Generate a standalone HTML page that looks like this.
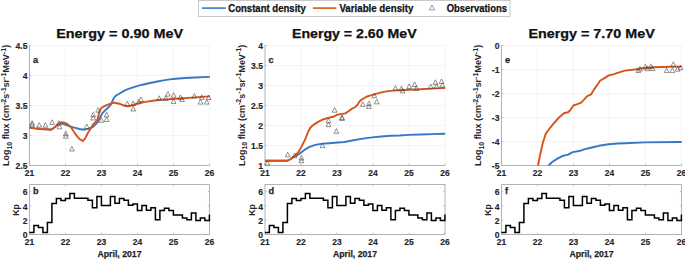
<!DOCTYPE html>
<html><head><meta charset="utf-8"><style>
html,body{margin:0;padding:0;background:#fff;width:685px;height:259px;overflow:hidden}
svg{display:block}
text{font-family:"Liberation Sans", sans-serif}
</style></head><body>
<svg width="685" height="259" viewBox="0 0 685 259" font-family='"Liberation Sans", sans-serif'>
<defs><clipPath id="cp0"><rect x="29.5" y="40" width="181" height="125.5"/></clipPath><clipPath id="cp1"><rect x="265.0" y="40" width="181" height="125.5"/></clipPath><clipPath id="cp2"><rect x="501.5" y="40" width="181" height="125.5"/></clipPath></defs>
<rect x="198.5" y="0.5" width="311.5" height="16" fill="#fff" stroke="#c8c8c8" stroke-width="1"/>
<line x1="202" y1="8.1" x2="225.8" y2="8.1" stroke="#3777c3" stroke-width="1.6"/>
<text x="228.3" y="12.0" font-size="10.6" text-anchor="start" font-weight="bold" fill="#111" stroke="#111" stroke-width="0.25" textLength="77.5" lengthAdjust="spacingAndGlyphs">Constant density</text>
<line x1="312.9" y1="8.1" x2="336.4" y2="8.1" stroke="#d95319" stroke-width="1.6"/>
<text x="339.4" y="12.0" font-size="10.6" text-anchor="start" font-weight="bold" fill="#111" stroke="#111" stroke-width="0.25" textLength="74" lengthAdjust="spacingAndGlyphs">Variable density</text>
<path d="M432.0,5.0L434.6,9.9L429.4,9.9Z" fill="none" stroke="#555" stroke-width="0.6"/>
<text x="446.7" y="12.0" font-size="10.6" text-anchor="start" font-weight="bold" fill="#111" stroke="#111" stroke-width="0.25" textLength="60.3" lengthAdjust="spacingAndGlyphs">Observations</text>
<text x="56.2" y="38.1" font-size="12.8" text-anchor="start" font-weight="bold" fill="#111" stroke="#111" stroke-width="0.25" textLength="127.0" lengthAdjust="spacingAndGlyphs">Energy = 0.90 MeV</text>
<text x="292.0" y="38.1" font-size="12.8" text-anchor="start" font-weight="bold" fill="#111" stroke="#111" stroke-width="0.25" textLength="124.6" lengthAdjust="spacingAndGlyphs">Energy = 2.60 MeV</text>
<text x="528.4" y="38.1" font-size="12.8" text-anchor="start" font-weight="bold" fill="#111" stroke="#111" stroke-width="0.25" textLength="126.4" lengthAdjust="spacingAndGlyphs">Energy = 7.70 MeV</text>
<path d="M65.5,45.5V165.5 M101.5,45.5V165.5 M137.5,45.5V165.5 M173.5,45.5V165.5 M209.5,45.5V165.5 M29.5,45.5H209.5 M29.5,75.5H209.5 M29.5,105.5H209.5 M29.5,135.5H209.5" stroke="#f1f1f1" stroke-width="0.8" fill="none"/>
<path d="M29.5,45.0V165.5H209.5M29.5,184.5V234.5H209.5V184.5Z" stroke="#b2b2b2" stroke-width="1" fill="none"/>
<path d="M29.5,165.5v-1.8M29.5,234.5v-1.8M29.5,184.5v1.8 M65.5,165.5v-1.8M65.5,234.5v-1.8M65.5,184.5v1.8 M101.5,165.5v-1.8M101.5,234.5v-1.8M101.5,184.5v1.8 M137.5,165.5v-1.8M137.5,234.5v-1.8M137.5,184.5v1.8 M173.5,165.5v-1.8M173.5,234.5v-1.8M173.5,184.5v1.8 M209.5,165.5v-1.8M209.5,234.5v-1.8M209.5,184.5v1.8 M29.5,45.5h1.8 M29.5,75.5h1.8 M29.5,105.5h1.8 M29.5,135.5h1.8 M29.5,165.5h1.8 M29.5,234.5h1.8M209.5,234.5h-1.8 M29.5,220.2h1.8M209.5,220.2h-1.8 M29.5,205.9h1.8M209.5,205.9h-1.8 M29.5,191.6h1.8M209.5,191.6h-1.8" stroke="#b2b2b2" stroke-width="0.8" fill="none"/>
<text x="27.5" y="49.1" font-size="8.6" text-anchor="end" font-weight="bold" fill="#262626" stroke="#262626" stroke-width="0.15">4.5</text>
<text x="27.5" y="79.1" font-size="8.6" text-anchor="end" font-weight="bold" fill="#262626" stroke="#262626" stroke-width="0.15">4</text>
<text x="27.5" y="109.1" font-size="8.6" text-anchor="end" font-weight="bold" fill="#262626" stroke="#262626" stroke-width="0.15">3.5</text>
<text x="27.5" y="139.1" font-size="8.6" text-anchor="end" font-weight="bold" fill="#262626" stroke="#262626" stroke-width="0.15">3</text>
<text x="27.5" y="169.1" font-size="8.6" text-anchor="end" font-weight="bold" fill="#262626" stroke="#262626" stroke-width="0.15">2.5</text>
<text x="27.5" y="238.1" font-size="8.6" text-anchor="end" font-weight="bold" fill="#262626" stroke="#262626" stroke-width="0.15">0</text>
<text x="27.5" y="223.81428571428572" font-size="8.6" text-anchor="end" font-weight="bold" fill="#262626" stroke="#262626" stroke-width="0.15">2</text>
<text x="27.5" y="209.5285714285714" font-size="8.6" text-anchor="end" font-weight="bold" fill="#262626" stroke="#262626" stroke-width="0.15">4</text>
<text x="27.5" y="195.24285714285713" font-size="8.6" text-anchor="end" font-weight="bold" fill="#262626" stroke="#262626" stroke-width="0.15">6</text>
<text x="29.5" y="176.1" font-size="8.5" text-anchor="middle" font-weight="bold" fill="#262626" stroke="#262626" stroke-width="0.15">21</text>
<text x="29.5" y="244.7" font-size="8.5" text-anchor="middle" font-weight="bold" fill="#262626" stroke="#262626" stroke-width="0.15">21</text>
<text x="65.5" y="176.1" font-size="8.5" text-anchor="middle" font-weight="bold" fill="#262626" stroke="#262626" stroke-width="0.15">22</text>
<text x="65.5" y="244.7" font-size="8.5" text-anchor="middle" font-weight="bold" fill="#262626" stroke="#262626" stroke-width="0.15">22</text>
<text x="101.5" y="176.1" font-size="8.5" text-anchor="middle" font-weight="bold" fill="#262626" stroke="#262626" stroke-width="0.15">23</text>
<text x="101.5" y="244.7" font-size="8.5" text-anchor="middle" font-weight="bold" fill="#262626" stroke="#262626" stroke-width="0.15">23</text>
<text x="137.5" y="176.1" font-size="8.5" text-anchor="middle" font-weight="bold" fill="#262626" stroke="#262626" stroke-width="0.15">24</text>
<text x="137.5" y="244.7" font-size="8.5" text-anchor="middle" font-weight="bold" fill="#262626" stroke="#262626" stroke-width="0.15">24</text>
<text x="173.5" y="176.1" font-size="8.5" text-anchor="middle" font-weight="bold" fill="#262626" stroke="#262626" stroke-width="0.15">25</text>
<text x="173.5" y="244.7" font-size="8.5" text-anchor="middle" font-weight="bold" fill="#262626" stroke="#262626" stroke-width="0.15">25</text>
<text x="209.5" y="176.1" font-size="8.5" text-anchor="middle" font-weight="bold" fill="#262626" stroke="#262626" stroke-width="0.15">26</text>
<text x="209.5" y="244.7" font-size="8.5" text-anchor="middle" font-weight="bold" fill="#262626" stroke="#262626" stroke-width="0.15">26</text>
<text x="33.1" y="62.9" font-size="9.2" text-anchor="start" font-weight="bold" fill="#262626" stroke="#262626" stroke-width="0.25">a</text>
<text x="33.1" y="193.6" font-size="9.2" text-anchor="start" font-weight="bold" fill="#262626" stroke="#262626" stroke-width="0.25">b</text>
<text x="119.5" y="256.9" font-size="8.8" text-anchor="middle" font-weight="bold" fill="#262626" stroke="#262626" stroke-width="0.25" textLength="44" lengthAdjust="spacingAndGlyphs">April, 2017</text>
<text transform="translate(9.1,105.4) rotate(-90)" x="0" y="0" font-size="9" text-anchor="middle" font-weight="bold" fill="#262626" textLength="121.2" lengthAdjust="spacingAndGlyphs">Log<tspan font-size="7" dy="2.8">10</tspan><tspan dy="-2.8"> flux (cm</tspan><tspan font-size="7.2" dy="-3.2">-2</tspan><tspan dy="3.2">s</tspan><tspan font-size="7.2" dy="-3.2">-1</tspan><tspan dy="3.2">sr</tspan><tspan font-size="7.2" dy="-3.2">-1</tspan><tspan dy="3.2">MeV</tspan><tspan font-size="7.2" dy="-3.2">-1</tspan><tspan dy="3.2">)</tspan></text>
<text transform="translate(19.2,209.9) rotate(-90)" x="0" y="0" font-size="8.8" text-anchor="middle" font-weight="bold" fill="#262626">Kp</text>
<path d="M29.4,232.4H33.9V225.5H38.4V227.5H42.9V232.4H47.4V222.5H51.9V203.4H56.4V198.5H60.9V200.5H65.4V198.5H69.9V193.6H74.4V198.3H78.9V198.3H83.4V198.3H87.9V200.3H92.4V207.8H96.9V196.6H101.4V205.5H105.9V205.5H110.4V196.6H114.9V203.2H119.4V198.6H123.9V200.2H128.4V205.2H132.9V204.0H137.4V210.5H141.9V205.6H146.4V210.3H150.9V207.8H155.4V219.8H159.9V210.6H164.4V208.2H168.9V210.4H173.4V215H177.9V215H182.4V217.9H186.9V219.8H191.4V213H195.9V220.4H200.4V217.9H204.9V220.4H209.4V214.5" stroke="#000" stroke-width="1.5" fill="none"/>
<path d="M301.0,45.5V165.5 M337.0,45.5V165.5 M373.0,45.5V165.5 M409.0,45.5V165.5 M445.0,45.5V165.5 M265.0,45.5H445.0 M265.0,65.5H445.0 M265.0,85.5H445.0 M265.0,105.5H445.0 M265.0,125.5H445.0 M265.0,145.5H445.0" stroke="#f1f1f1" stroke-width="0.8" fill="none"/>
<path d="M265.0,45.0V165.5H445.0M265.0,184.5V234.5H445.0V184.5Z" stroke="#b2b2b2" stroke-width="1" fill="none"/>
<path d="M265.0,165.5v-1.8M265.0,234.5v-1.8M265.0,184.5v1.8 M301.0,165.5v-1.8M301.0,234.5v-1.8M301.0,184.5v1.8 M337.0,165.5v-1.8M337.0,234.5v-1.8M337.0,184.5v1.8 M373.0,165.5v-1.8M373.0,234.5v-1.8M373.0,184.5v1.8 M409.0,165.5v-1.8M409.0,234.5v-1.8M409.0,184.5v1.8 M445.0,165.5v-1.8M445.0,234.5v-1.8M445.0,184.5v1.8 M265.0,45.5h1.8 M265.0,65.5h1.8 M265.0,85.5h1.8 M265.0,105.5h1.8 M265.0,125.5h1.8 M265.0,145.5h1.8 M265.0,165.5h1.8 M265.0,234.5h1.8M445.0,234.5h-1.8 M265.0,220.2h1.8M445.0,220.2h-1.8 M265.0,205.9h1.8M445.0,205.9h-1.8 M265.0,191.6h1.8M445.0,191.6h-1.8" stroke="#b2b2b2" stroke-width="0.8" fill="none"/>
<text x="263.0" y="49.1" font-size="8.6" text-anchor="end" font-weight="bold" fill="#262626" stroke="#262626" stroke-width="0.15">4</text>
<text x="263.0" y="69.1" font-size="8.6" text-anchor="end" font-weight="bold" fill="#262626" stroke="#262626" stroke-width="0.15">3.5</text>
<text x="263.0" y="89.1" font-size="8.6" text-anchor="end" font-weight="bold" fill="#262626" stroke="#262626" stroke-width="0.15">3</text>
<text x="263.0" y="109.1" font-size="8.6" text-anchor="end" font-weight="bold" fill="#262626" stroke="#262626" stroke-width="0.15">2.5</text>
<text x="263.0" y="129.1" font-size="8.6" text-anchor="end" font-weight="bold" fill="#262626" stroke="#262626" stroke-width="0.15">2</text>
<text x="263.0" y="149.1" font-size="8.6" text-anchor="end" font-weight="bold" fill="#262626" stroke="#262626" stroke-width="0.15">1.5</text>
<text x="263.0" y="169.1" font-size="8.6" text-anchor="end" font-weight="bold" fill="#262626" stroke="#262626" stroke-width="0.15">1</text>
<text x="263.0" y="238.1" font-size="8.6" text-anchor="end" font-weight="bold" fill="#262626" stroke="#262626" stroke-width="0.15">0</text>
<text x="263.0" y="223.81428571428572" font-size="8.6" text-anchor="end" font-weight="bold" fill="#262626" stroke="#262626" stroke-width="0.15">2</text>
<text x="263.0" y="209.5285714285714" font-size="8.6" text-anchor="end" font-weight="bold" fill="#262626" stroke="#262626" stroke-width="0.15">4</text>
<text x="263.0" y="195.24285714285713" font-size="8.6" text-anchor="end" font-weight="bold" fill="#262626" stroke="#262626" stroke-width="0.15">6</text>
<text x="265.0" y="176.1" font-size="8.5" text-anchor="middle" font-weight="bold" fill="#262626" stroke="#262626" stroke-width="0.15">21</text>
<text x="265.0" y="244.7" font-size="8.5" text-anchor="middle" font-weight="bold" fill="#262626" stroke="#262626" stroke-width="0.15">21</text>
<text x="301.0" y="176.1" font-size="8.5" text-anchor="middle" font-weight="bold" fill="#262626" stroke="#262626" stroke-width="0.15">22</text>
<text x="301.0" y="244.7" font-size="8.5" text-anchor="middle" font-weight="bold" fill="#262626" stroke="#262626" stroke-width="0.15">22</text>
<text x="337.0" y="176.1" font-size="8.5" text-anchor="middle" font-weight="bold" fill="#262626" stroke="#262626" stroke-width="0.15">23</text>
<text x="337.0" y="244.7" font-size="8.5" text-anchor="middle" font-weight="bold" fill="#262626" stroke="#262626" stroke-width="0.15">23</text>
<text x="373.0" y="176.1" font-size="8.5" text-anchor="middle" font-weight="bold" fill="#262626" stroke="#262626" stroke-width="0.15">24</text>
<text x="373.0" y="244.7" font-size="8.5" text-anchor="middle" font-weight="bold" fill="#262626" stroke="#262626" stroke-width="0.15">24</text>
<text x="409.0" y="176.1" font-size="8.5" text-anchor="middle" font-weight="bold" fill="#262626" stroke="#262626" stroke-width="0.15">25</text>
<text x="409.0" y="244.7" font-size="8.5" text-anchor="middle" font-weight="bold" fill="#262626" stroke="#262626" stroke-width="0.15">25</text>
<text x="445.0" y="176.1" font-size="8.5" text-anchor="middle" font-weight="bold" fill="#262626" stroke="#262626" stroke-width="0.15">26</text>
<text x="445.0" y="244.7" font-size="8.5" text-anchor="middle" font-weight="bold" fill="#262626" stroke="#262626" stroke-width="0.15">26</text>
<text x="268.6" y="62.9" font-size="9.2" text-anchor="start" font-weight="bold" fill="#262626" stroke="#262626" stroke-width="0.25">c</text>
<text x="268.6" y="193.6" font-size="9.2" text-anchor="start" font-weight="bold" fill="#262626" stroke="#262626" stroke-width="0.25">d</text>
<text x="355.0" y="256.9" font-size="8.8" text-anchor="middle" font-weight="bold" fill="#262626" stroke="#262626" stroke-width="0.25" textLength="44" lengthAdjust="spacingAndGlyphs">April, 2017</text>
<text transform="translate(244.6,105.4) rotate(-90)" x="0" y="0" font-size="9" text-anchor="middle" font-weight="bold" fill="#262626" textLength="121.2" lengthAdjust="spacingAndGlyphs">Log<tspan font-size="7" dy="2.8">10</tspan><tspan dy="-2.8"> flux (cm</tspan><tspan font-size="7.2" dy="-3.2">-2</tspan><tspan dy="3.2">s</tspan><tspan font-size="7.2" dy="-3.2">-1</tspan><tspan dy="3.2">sr</tspan><tspan font-size="7.2" dy="-3.2">-1</tspan><tspan dy="3.2">MeV</tspan><tspan font-size="7.2" dy="-3.2">-1</tspan><tspan dy="3.2">)</tspan></text>
<text transform="translate(254.7,209.9) rotate(-90)" x="0" y="0" font-size="8.8" text-anchor="middle" font-weight="bold" fill="#262626">Kp</text>
<path d="M264.9,232.4H269.4V225.5H273.9V227.5H278.4V232.4H282.9V222.5H287.4V203.4H291.9V198.5H296.4V200.5H300.9V198.5H305.4V193.6H309.9V198.3H314.4V198.3H318.9V198.3H323.4V200.3H327.9V207.8H332.4V196.6H336.9V205.5H341.4V205.5H345.9V196.6H350.4V203.2H354.9V198.6H359.4V200.2H363.9V205.2H368.4V204.0H372.9V210.5H377.4V205.6H381.9V210.3H386.4V207.8H390.9V219.8H395.4V210.6H399.9V208.2H404.4V210.4H408.9V215H413.4V215H417.9V217.9H422.4V219.8H426.9V213H431.4V220.4H435.9V217.9H440.4V220.4H444.9V214.5" stroke="#000" stroke-width="1.5" fill="none"/>
<path d="M537.5,45.5V165.5 M573.5,45.5V165.5 M609.5,45.5V165.5 M645.5,45.5V165.5 M681.5,45.5V165.5 M501.5,45.5H681.5 M501.5,69.5H681.5 M501.5,93.5H681.5 M501.5,117.5H681.5 M501.5,141.5H681.5" stroke="#f1f1f1" stroke-width="0.8" fill="none"/>
<path d="M501.5,45.0V165.5H681.5M501.5,184.5V234.5H681.5V184.5Z" stroke="#b2b2b2" stroke-width="1" fill="none"/>
<path d="M501.5,165.5v-1.8M501.5,234.5v-1.8M501.5,184.5v1.8 M537.5,165.5v-1.8M537.5,234.5v-1.8M537.5,184.5v1.8 M573.5,165.5v-1.8M573.5,234.5v-1.8M573.5,184.5v1.8 M609.5,165.5v-1.8M609.5,234.5v-1.8M609.5,184.5v1.8 M645.5,165.5v-1.8M645.5,234.5v-1.8M645.5,184.5v1.8 M681.5,165.5v-1.8M681.5,234.5v-1.8M681.5,184.5v1.8 M501.5,45.5h1.8 M501.5,69.5h1.8 M501.5,93.5h1.8 M501.5,117.5h1.8 M501.5,141.5h1.8 M501.5,165.5h1.8 M501.5,234.5h1.8M681.5,234.5h-1.8 M501.5,220.2h1.8M681.5,220.2h-1.8 M501.5,205.9h1.8M681.5,205.9h-1.8 M501.5,191.6h1.8M681.5,191.6h-1.8" stroke="#b2b2b2" stroke-width="0.8" fill="none"/>
<text x="499.5" y="49.1" font-size="8.6" text-anchor="end" font-weight="bold" fill="#262626" stroke="#262626" stroke-width="0.15">0</text>
<text x="499.5" y="73.1" font-size="8.6" text-anchor="end" font-weight="bold" fill="#262626" stroke="#262626" stroke-width="0.15">-1</text>
<text x="499.5" y="97.1" font-size="8.6" text-anchor="end" font-weight="bold" fill="#262626" stroke="#262626" stroke-width="0.15">-2</text>
<text x="499.5" y="121.1" font-size="8.6" text-anchor="end" font-weight="bold" fill="#262626" stroke="#262626" stroke-width="0.15">-3</text>
<text x="499.5" y="145.1" font-size="8.6" text-anchor="end" font-weight="bold" fill="#262626" stroke="#262626" stroke-width="0.15">-4</text>
<text x="499.5" y="169.1" font-size="8.6" text-anchor="end" font-weight="bold" fill="#262626" stroke="#262626" stroke-width="0.15">-5</text>
<text x="499.5" y="238.1" font-size="8.6" text-anchor="end" font-weight="bold" fill="#262626" stroke="#262626" stroke-width="0.15">0</text>
<text x="499.5" y="223.81428571428572" font-size="8.6" text-anchor="end" font-weight="bold" fill="#262626" stroke="#262626" stroke-width="0.15">2</text>
<text x="499.5" y="209.5285714285714" font-size="8.6" text-anchor="end" font-weight="bold" fill="#262626" stroke="#262626" stroke-width="0.15">4</text>
<text x="499.5" y="195.24285714285713" font-size="8.6" text-anchor="end" font-weight="bold" fill="#262626" stroke="#262626" stroke-width="0.15">6</text>
<text x="501.5" y="176.1" font-size="8.5" text-anchor="middle" font-weight="bold" fill="#262626" stroke="#262626" stroke-width="0.15">21</text>
<text x="501.5" y="244.7" font-size="8.5" text-anchor="middle" font-weight="bold" fill="#262626" stroke="#262626" stroke-width="0.15">21</text>
<text x="537.5" y="176.1" font-size="8.5" text-anchor="middle" font-weight="bold" fill="#262626" stroke="#262626" stroke-width="0.15">22</text>
<text x="537.5" y="244.7" font-size="8.5" text-anchor="middle" font-weight="bold" fill="#262626" stroke="#262626" stroke-width="0.15">22</text>
<text x="573.5" y="176.1" font-size="8.5" text-anchor="middle" font-weight="bold" fill="#262626" stroke="#262626" stroke-width="0.15">23</text>
<text x="573.5" y="244.7" font-size="8.5" text-anchor="middle" font-weight="bold" fill="#262626" stroke="#262626" stroke-width="0.15">23</text>
<text x="609.5" y="176.1" font-size="8.5" text-anchor="middle" font-weight="bold" fill="#262626" stroke="#262626" stroke-width="0.15">24</text>
<text x="609.5" y="244.7" font-size="8.5" text-anchor="middle" font-weight="bold" fill="#262626" stroke="#262626" stroke-width="0.15">24</text>
<text x="645.5" y="176.1" font-size="8.5" text-anchor="middle" font-weight="bold" fill="#262626" stroke="#262626" stroke-width="0.15">25</text>
<text x="645.5" y="244.7" font-size="8.5" text-anchor="middle" font-weight="bold" fill="#262626" stroke="#262626" stroke-width="0.15">25</text>
<text x="681.5" y="176.1" font-size="8.5" text-anchor="middle" font-weight="bold" fill="#262626" stroke="#262626" stroke-width="0.15">26</text>
<text x="681.5" y="244.7" font-size="8.5" text-anchor="middle" font-weight="bold" fill="#262626" stroke="#262626" stroke-width="0.15">26</text>
<text x="505.1" y="62.9" font-size="9.2" text-anchor="start" font-weight="bold" fill="#262626" stroke="#262626" stroke-width="0.25">e</text>
<text x="505.1" y="193.6" font-size="9.2" text-anchor="start" font-weight="bold" fill="#262626" stroke="#262626" stroke-width="0.25">f</text>
<text x="591.5" y="256.9" font-size="8.8" text-anchor="middle" font-weight="bold" fill="#262626" stroke="#262626" stroke-width="0.25" textLength="44" lengthAdjust="spacingAndGlyphs">April, 2017</text>
<text transform="translate(481.1,105.4) rotate(-90)" x="0" y="0" font-size="9" text-anchor="middle" font-weight="bold" fill="#262626" textLength="121.2" lengthAdjust="spacingAndGlyphs">Log<tspan font-size="7" dy="2.8">10</tspan><tspan dy="-2.8"> flux (cm</tspan><tspan font-size="7.2" dy="-3.2">-2</tspan><tspan dy="3.2">s</tspan><tspan font-size="7.2" dy="-3.2">-1</tspan><tspan dy="3.2">sr</tspan><tspan font-size="7.2" dy="-3.2">-1</tspan><tspan dy="3.2">MeV</tspan><tspan font-size="7.2" dy="-3.2">-1</tspan><tspan dy="3.2">)</tspan></text>
<text transform="translate(491.2,209.9) rotate(-90)" x="0" y="0" font-size="8.8" text-anchor="middle" font-weight="bold" fill="#262626">Kp</text>
<path d="M501.4,232.4H505.9V225.5H510.4V227.5H514.9V232.4H519.4V222.5H523.9V203.4H528.4V198.5H532.9V200.5H537.4V198.5H541.9V193.6H546.4V198.3H550.9V198.3H555.4V198.3H559.9V200.3H564.4V207.8H568.9V196.6H573.4V205.5H577.9V205.5H582.4V196.6H586.9V203.2H591.4V198.6H595.9V200.2H600.4V205.2H604.9V204.0H609.4V210.5H613.9V205.6H618.4V210.3H622.9V207.8H627.4V219.8H631.9V210.6H636.4V208.2H640.9V210.4H645.4V215H649.9V215H654.4V217.9H658.9V219.8H663.4V213H667.9V220.4H672.4V217.9H676.9V220.4H681.4V214.5" stroke="#000" stroke-width="1.5" fill="none"/>
<g clip-path="url(#cp0)">
<polyline points="29.0,127.6 34.8,128.4 40.6,129.0 46.4,129.3 51.2,129.7 55.1,127.0 58.9,123.6 59.9,123.2 63.7,124.1 67.6,125.7 73.4,127.4 79.6,129.0 84.3,129.7 88.9,128.6 92.8,127.0 97.4,122.6 100.3,116.8 102.6,112.9 105.0,110.6 108.2,107.5 110.5,105.2 112.3,101.5 114.2,97.4 116.5,95.3 119.3,93.7 123.9,90.9 128.5,88.8 133.2,87.3 137.8,85.9 142.4,84.7 151.2,82.8 157.4,81.5 163.5,80.4 169.7,79.4 175.9,78.7 185.0,78.0 195.0,77.5 209.0,76.9" stroke="#3777c3" stroke-width="1.9" fill="none" stroke-linejoin="round" stroke-linecap="round"/>
<polyline points="29.0,127.6 34.8,128.4 40.6,129.0 46.4,129.3 51.2,129.7 55.1,127.0 58.9,123.6 61.5,122.3 64.7,122.8 67.6,124.1 71.2,127.6 73.9,131.8 77.3,136.6 80.0,139.4 82.7,141.0 85.2,138.4 88.1,132.5 89.8,130.0 92.7,124.9 95.6,122.0 97.4,119.7 98.5,115.2 99.7,110.6 101.4,108.0 104.0,106.3 107.0,104.8 110.0,103.8 114.6,102.7 119.3,103.7 123.9,105.5 127.8,106.3 131.6,105.5 136.3,104.0 140.9,102.7 145.5,101.9 152.7,100.8 160.4,99.7 168.2,99.3 175.9,98.7 184.3,98.2 195.1,97.4 209.0,96.4" stroke="#d95319" stroke-width="1.9" fill="none" stroke-linejoin="round" stroke-linecap="round"/>
</g>
<path d="M32.1,120.6L34.5,125.2L29.7,125.2ZM32.1,122.2L34.5,126.8L29.7,126.8ZM39.2,122.6L41.6,127.2L36.8,127.2ZM45.4,122.6L47.8,127.2L43.0,127.2ZM52.2,119.8L54.6,124.4L49.8,124.4ZM59.0,120.6L61.4,125.2L56.6,125.2ZM59.5,124.2L61.9,128.8L57.1,128.8ZM65.8,131.1L68.2,135.7L63.4,135.7ZM65.8,133.6L68.2,138.2L63.4,138.2ZM71.9,146.4L74.3,151.0L69.5,151.0ZM86.7,124.0L89.1,128.6L84.3,128.6ZM93.2,112.3L95.6,116.9L90.8,116.9ZM93.2,115.4L95.6,120.0L90.8,120.0ZM98.2,107.6L100.6,112.2L95.8,112.2ZM101.3,117.7L103.7,122.3L98.9,122.3ZM106.7,112.3L109.1,116.9L104.3,116.9ZM106.7,116.9L109.1,121.5L104.3,121.5ZM127.3,101.3L129.7,105.9L124.9,105.9ZM133.2,101.0L135.6,105.6L130.8,105.6ZM133.3,106.4L135.7,111.0L130.9,111.0ZM138.6,99.3L141.0,103.9L136.2,103.9ZM140.9,96.9L143.3,101.5L138.5,101.5ZM159.2,95.8L161.6,100.4L156.8,100.4ZM165.8,95.8L168.2,100.4L163.4,100.4ZM167.9,91.5L170.3,96.1L165.5,96.1ZM173.6,92.7L176.0,97.3L171.2,97.3ZM173.6,98.9L176.0,103.5L171.2,103.5ZM180.4,95.0L182.8,99.6L178.0,99.6ZM182.0,96.9L184.4,101.5L179.6,101.5ZM194.3,93.5L196.7,98.1L191.9,98.1ZM200.5,99.5L202.9,104.1L198.1,104.1ZM201.8,94.7L204.2,99.3L199.4,99.3ZM206.7,99.5L209.1,104.1L204.3,104.1ZM208.7,95.0L211.1,99.6L206.3,99.6Z" fill="none" stroke="#4a4a4a" stroke-width="0.6"/>
<g clip-path="url(#cp1)">
<polyline points="265.1,160.7 287.6,160.8 291.1,158.8 294.6,155.9 295.2,156.3 298.1,154.6 301.5,152.3 305.0,149.6 308.5,147.4 313.0,145.6 316.6,144.6 322.8,143.6 329.0,143.2 335.0,142.8 344.3,142.0 353.5,140.3 362.8,138.6 372.1,137.4 381.4,136.5 390.6,135.8 399.3,135.5 408.5,134.9 420.9,134.5 433.3,134.1 444.4,133.7" stroke="#3777c3" stroke-width="1.9" fill="none" stroke-linejoin="round" stroke-linecap="round"/>
<polyline points="265.1,160.7 287.6,160.8 291.1,158.8 294.6,155.9 298.1,152.4 301.0,147.7 303.3,143.1 305.4,139.0 307.0,134.6 308.5,131.0 309.8,128.5 311.5,126.6 313.9,124.6 318.5,121.6 323.2,119.4 327.8,118.0 333.1,116.8 337.0,114.8 340.8,114.1 345.4,113.4 348.5,111.3 351.6,108.9 355.4,107.0 357.8,104.3 359.5,101.6 361.0,100.0 363.5,98.5 366.0,97.0 368.9,95.8 374.3,94.3 380.4,92.6 386.6,91.4 392.8,90.6 399.0,90.2 405.0,90.0 420.4,89.3 435.9,88.4 444.4,88.0" stroke="#d95319" stroke-width="1.9" fill="none" stroke-linejoin="round" stroke-linecap="round"/>
</g>
<path d="M267.3,160.5L269.7,165.1L264.9,165.1ZM287.7,152.2L290.1,156.8L285.3,156.8ZM294.7,153.0L297.1,157.6L292.3,157.6ZM301.4,155.4L303.8,160.0L299.0,160.0ZM301.4,158.1L303.8,162.7L299.0,162.7ZM322.5,143.0L324.9,147.6L320.1,147.6ZM328.5,118.2L330.9,122.8L326.1,122.8ZM328.5,122.0L330.9,126.6L326.1,126.6ZM334.6,107.6L337.0,112.2L332.2,112.2ZM336.4,128.7L338.8,133.3L334.0,133.3ZM342.0,114.9L344.4,119.5L339.6,119.5ZM342.0,115.9L344.4,120.5L339.6,120.5ZM362.8,101.8L365.2,106.4L360.4,106.4ZM368.9,101.2L371.3,105.8L366.5,105.8ZM368.9,104.0L371.3,108.6L366.5,108.6ZM374.3,93.1L376.7,97.7L371.9,97.7ZM376.7,99.2L379.1,103.8L374.3,103.8ZM395.4,85.7L397.8,90.3L393.0,90.3ZM401.5,86.0L403.9,90.6L399.1,90.6ZM402.6,88.3L405.0,92.9L400.2,92.9ZM409.2,83.9L411.6,88.5L406.8,88.5ZM414.6,81.9L417.0,86.5L412.2,86.5ZM416.3,85.8L418.7,90.4L413.9,90.4ZM430.7,84.0L433.1,88.6L428.3,88.6ZM435.4,79.8L437.8,84.4L433.0,84.4ZM436.5,83.8L438.9,88.4L434.1,88.4ZM441.5,79.0L443.9,83.6L439.1,83.6ZM442.4,82.5L444.8,87.1L440.0,87.1Z" fill="none" stroke="#4a4a4a" stroke-width="0.6"/>
<g clip-path="url(#cp2)">
<polyline points="548.3,165.8 552.2,162.0 557.8,158.4 563.3,155.7 568.1,154.6 572.7,152.1 580.5,150.7 586.6,148.7 592.8,147.3 599.0,145.8 608.3,144.3 617.5,143.5 625.0,143.2 644.7,142.4 681.0,142.0" stroke="#3777c3" stroke-width="1.9" fill="none" stroke-linejoin="round" stroke-linecap="round"/>
<polyline points="538.0,165.8 540.2,154.3 543.0,142.2 545.7,133.9 548.4,130.0 553.1,124.1 558.5,118.0 563.9,113.2 568.0,112.3 570.0,110.5 573.4,105.5 577.4,104.2 581.1,102.6 584.5,99.1 587.2,96.1 591.2,94.3 593.9,89.6 597.3,84.9 600.0,80.8 604.1,78.4 608.8,75.4 614.1,74.1 619.0,72.4 625.0,70.6 634.6,69.5 644.3,68.0 653.9,67.2 662.0,67.0 670.2,66.8 681.0,66.6" stroke="#d95319" stroke-width="1.9" fill="none" stroke-linejoin="round" stroke-linecap="round"/>
</g>
<path d="M638.3,67.9L640.7,72.5L635.9,72.5ZM640.0,66.4L642.4,71.0L637.6,71.0ZM645.3,64.3L647.7,68.9L642.9,68.9ZM647.3,66.1L649.7,70.7L644.9,70.7ZM650.8,63.8L653.2,68.4L648.4,68.4ZM652.5,65.9L654.9,70.5L650.1,70.5ZM666.6,68.0L669.0,72.6L664.2,72.6ZM672.4,68.0L674.8,72.6L670.0,72.6ZM673.3,61.8L675.7,66.4L670.9,66.4ZM677.7,66.6L680.1,71.2L675.3,71.2ZM680.6,65.1L683.0,69.7L678.2,69.7Z" fill="none" stroke="#4a4a4a" stroke-width="0.6"/>
</svg>
</body></html>
